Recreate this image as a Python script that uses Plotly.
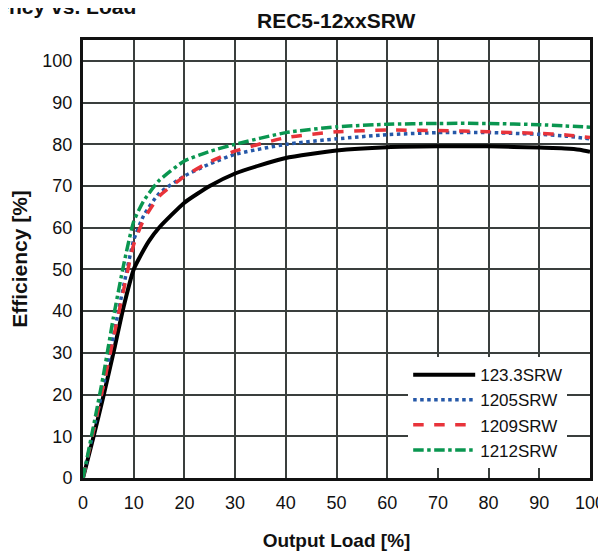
import plotly.graph_objects as go

# Output load [%]
load_123 = [0, 2, 4, 6, 8, 10, 11, 13, 15, 20, 25, 30, 35, 40, 50, 60, 70, 80, 90, 95, 98, 100]
eff_123 = [0, 9.5, 19.5, 30, 41, 50, 52.5, 56.8, 60, 66, 70, 73, 75, 76.7, 78.5, 79.3, 79.5, 79.5, 79.2, 79, 78.7, 78.2]

load_std = [0, 2, 4, 6, 8, 10, 12, 15, 20, 25, 30, 40, 50, 60, 70, 80, 90, 95, 100]
eff_1205 = [0, 11, 22, 34, 46, 57, 63, 68.2, 72.4, 75.3, 77.6, 80, 81.3, 82.3, 82.8, 82.8, 82.4, 82, 81.3]
eff_1209 = [0, 11, 22, 33.5, 45, 56, 62, 67.5, 72.3, 75.8, 78.4, 81.6, 83, 83.4, 83.3, 83, 82.6, 82.3, 81.6]
eff_1212 = [0, 12, 24.5, 38.5, 51, 61.5, 66.5, 71.3, 76, 78.3, 80, 82.8, 84.2, 84.8, 85, 85, 84.7, 84.4, 84.1]

series_names = ["123.3SRW", "1205SRW", "1209SRW", "1212SRW"]
x_ticks = [0, 10, 20, 30, 40, 50, 60, 70, 80, 90, 100]
y_ticks = [0, 10, 20, 30, 40, 50, 60, 70, 80, 90, 100]

FONT = "Liberation Sans, Arial, sans-serif"

fig = go.Figure()
fig.add_trace(go.Scatter(x=load_123, y=eff_123, name=series_names[0], mode="lines",
                         line=dict(color="#000000", width=4, shape="spline", smoothing=0.5)))
fig.add_trace(go.Scatter(x=load_std, y=eff_1205, name=series_names[1], mode="lines",
                         line=dict(color="#2558a8", width=3.5, dash="dot", shape="spline", smoothing=0.5)))
fig.add_trace(go.Scatter(x=load_std, y=eff_1209, name=series_names[2], mode="lines",
                         line=dict(color="#e8333a", width=3.5, dash="dash", shape="spline", smoothing=0.5)))
fig.add_trace(go.Scatter(x=load_std, y=eff_1212, name=series_names[3], mode="lines",
                         line=dict(color="#0a9650", width=3.5, dash="dashdot", shape="spline", smoothing=0.5)))

fig.update_layout(
    width=606, height=558,
    margin=dict(l=75, r=24, t=32, b=88, autoexpand=False),
    paper_bgcolor="white", plot_bgcolor="white",
    font=dict(family=FONT, size=18, color="#111111"),
    showlegend=True,
    legend=dict(x=0.955, y=0.276, xanchor="right", yanchor="top",
                bgcolor="white", borderwidth=0, itemwidth=62,
                font=dict(family=FONT, size=17, color="#111111"),
                tracegroupgap=0),
    annotations=[
        dict(text="<b>REC5-12xxSRW</b>", x=0.5, y=1.0, xref="paper", yref="paper",
             yshift=6, xanchor="center", yanchor="bottom", showarrow=False,
             font=dict(family=FONT, size=21, color="#111111")),
        dict(text="<b>Efficiency vs. Load</b>", x=0.1085, y=1.0, xref="paper", yref="paper",
             yshift=20, xanchor="right", yanchor="bottom", showarrow=False,
             font=dict(family=FONT, size=21, color="#111111")),
    ],
)

fig.update_xaxes(range=[0, 100], tickvals=x_ticks, ticks="", showgrid=True,
                 gridcolor="#3a3f3d", gridwidth=1.5, showline=True, linecolor="#111111",
                 linewidth=3, mirror=True, zeroline=False, ticklabelstandoff=6, automargin=False,
                 title=dict(text="<b>Output Load [%]</b>", font=dict(family=FONT, size=19), standoff=23),
                 tickfont=dict(family=FONT, size=18))
fig.update_yaxes(range=[0, 105], tickvals=y_ticks, ticks="", showgrid=True,
                 gridcolor="#3a3f3d", gridwidth=1.5, showline=True, linecolor="#111111",
                 linewidth=3, mirror=True, zeroline=False, ticklabelstandoff=4, automargin=False,
                 title=dict(text="<b>Efficiency [%]</b>", font=dict(family=FONT, size=21), standoff=10),
                 tickfont=dict(family=FONT, size=18))

fig.write_html("out.html")
